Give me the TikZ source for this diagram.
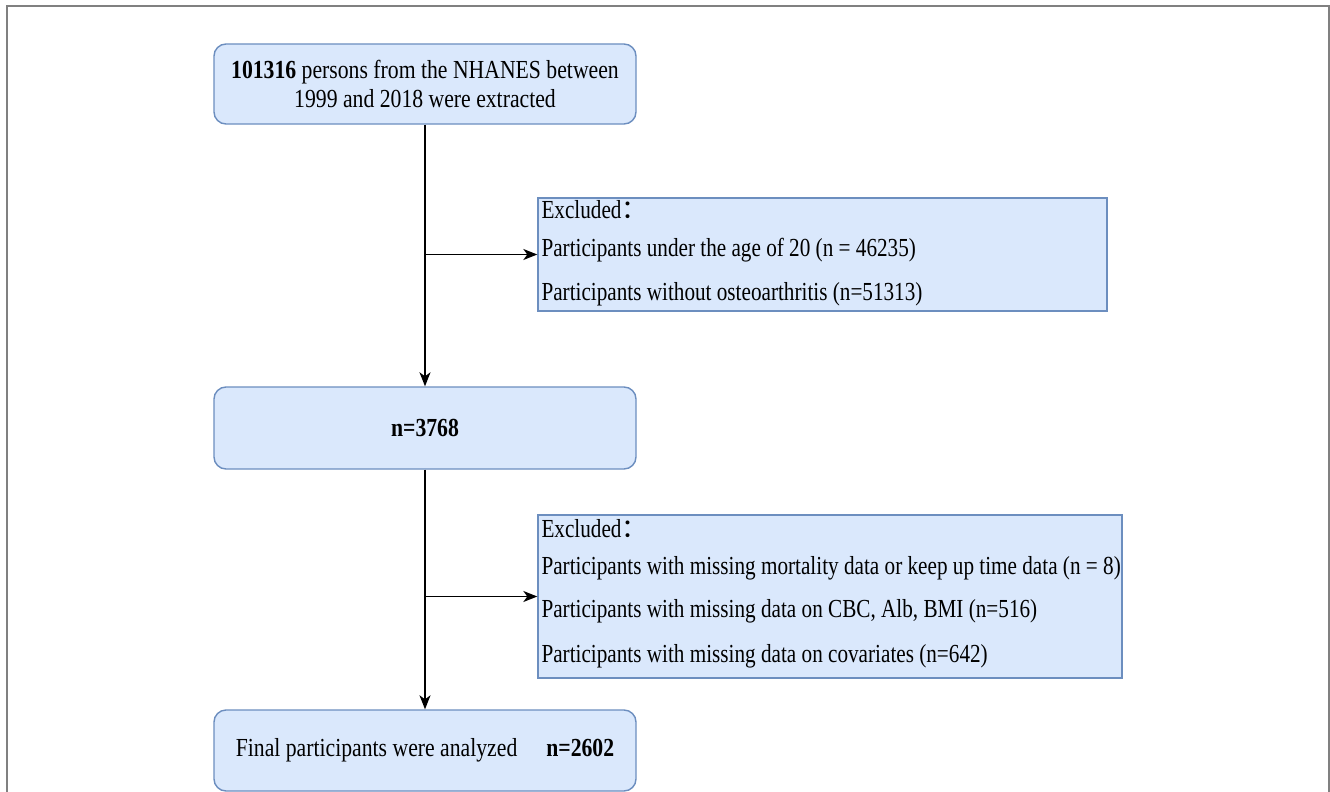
\documentclass[tikz,border=0pt]{standalone}
\usepackage{fontspec}
\setmainfont{Liberation Serif}[FakeStretch=0.835]
\newfontfamily\exfont{Liberation Serif}[FakeStretch=0.815]
\newfontfamily\cjk{Noto Sans CJK SC}
\usetikzlibrary{arrows.meta}
\definecolor{boxfill}{HTML}{DAE8FC}
\definecolor{boxline}{HTML}{6C8EBF}
\tikzset{
	mainbox/.style={draw=boxline, fill=boxfill, line width=1.4pt, rounded corners=12pt, minimum width=422pt, align=center, inner sep=0pt, font=\fontsize{26}{29}\selectfont},
	exbox/.style={draw=boxline, fill=boxfill, line width=1.4pt},
	extext/.style={anchor=west, inner sep=0pt, align=left, font=\exfont\fontsize{26}{28}\selectfont},
	arr/.style={-{Stealth[length=14pt,width=11pt,inset=4pt]}, line width=1.4pt, black}
}
\begin{document}
\begin{tikzpicture}[x=1pt,y=-1pt]
		\useasboundingbox (0,0) rectangle (1330,792);
		\draw[color=gray, line width=2pt] (7,792) -- (7,6) -- (1329,6) -- (1329,792);
		\node[mainbox, minimum height=80pt] (start) at (425,84) {\textbf{101316} persons from the NHANES between\\1999 and 2018 were extracted};
		\node[mainbox, minimum height=82pt] (mid) at (425,428) {\textbf{n=3768}};
		\node[mainbox, minimum height=81pt] (final) at (425,750.5) {Final participants were analyzed\hspace{29pt}\textbf{n=2602}};
		\node[exbox, minimum width=569pt, minimum height=113pt] (exA) at (822.5,254.5) {};
		\node[extext] (exAtext) at ([xshift=4pt, yshift=1pt]exA.west) {Excluded{\cjk ：}\\[10pt]
			Participants under the age of 20 (n = 46235)\\[16pt]
			Participants without osteoarthritis (n=51313)};
		\node[exbox, minimum width=584pt, minimum height=163pt] (exB) at (830,596.5) {};
		\node[extext] (exBtext) at ([xshift=4pt, yshift=3pt]exB.west) {Excluded{\cjk ：}\\[9pt]
			Participants with missing mortality data or keep up time data (n = 8)\\[15pt]
			Participants with missing data on CBC, Alb, BMI (n=516)\\[17pt]
			Participants with missing data on covariates (n=642)};
		\draw[arr] (start) -- (mid);
		\draw[arr] (mid) -- (final);
		\draw[arr] (start.south |- exA.west) -- (exA.west);
		\draw[arr] (mid.south |- exB.west) -- (exB.west);
	\end{tikzpicture}
\end{document}
